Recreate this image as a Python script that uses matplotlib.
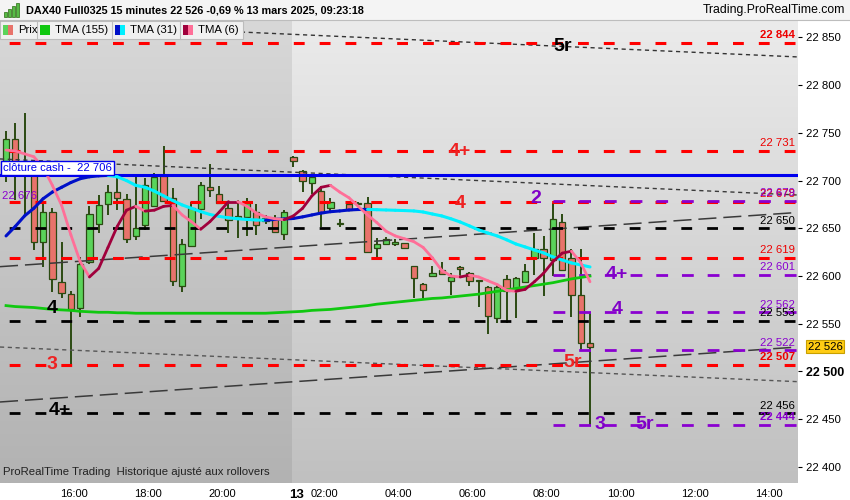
from __future__ import annotations

import matplotlib

matplotlib.use("Agg")
import matplotlib.pyplot as plt
import numpy as np
from matplotlib.collections import LineCollection
from matplotlib.colors import to_rgb
from matplotlib.patches import Rectangle
from matplotlib.transforms import blended_transform_factory

plt.rcParams["font.family"] = ["Liberation Sans", "DejaVu Sans"]
plt.rcParams["lines.scale_dashes"] = False

# 15 minute bars: index 0 = 12 mars 14:15 ... index 31 = 13 mars 01:15 ... index 63 = 09:15
opens = [22721, 22744, 22709, 22720, 22636, 22667, 22594, 22581, 22566, 22615,
         22655, 22675, 22688, 22681, 22642, 22653, 22673, 22705, 22682, 22590,
         22631, 22670, 22693, 22686, 22671, 22661, 22662, 22667, 22658, 22661,
         22644, 22725, 22710, 22698, 22689, 22671, 22655, 22675, 22677, 22677,
         22629, 22634, 22634, 22635, 22610, 22592, 22600, 22606, 22595, 22609,
         22603, 22596, 22589, 22556, 22597, 22586, 22594, 22619, 22628, 22617,
         22657, 22619, 22580, 22530]
highs = [22752, 22760, 22771, 22722, 22678, 22671, 22636, 22584, 22620, 22673,
         22685, 22695, 22704, 22686, 22704, 22703, 22708, 22736, 22692, 22639,
         22678, 22699, 22717, 22694, 22678, 22680, 22682, 22675, 22664, 22664,
         22669, 22726, 22711, 22705, 22694, 22682, 22660, 22677, 22678, 22683,
         22640, 22641, 22639, 22635, 22611, 22593, 22610, 22615, 22603, 22611,
         22604, 22596, 22590, 22591, 22601, 22599, 22613, 22645, 22642, 22677,
         22665, 22628, 22628, 22561]
lows = [22699, 22680, 22664, 22627, 22609, 22583, 22577, 22506, 22557, 22613,
        22645, 22664, 22669, 22635, 22638, 22648, 22673, 22679, 22590, 22583,
        22631, 22660, 22683, 22676, 22645, 22640, 22642, 22643, 22654, 22645,
        22638, 22714, 22688, 22686, 22651, 22666, 22651, 22668, 22675, 22625,
        22619, 22632, 22631, 22629, 22577, 22577, 22600, 22601, 22580, 22599,
        22590, 22568, 22539, 22551, 22551, 22556, 22593, 22601, 22579, 22600,
        22606, 22557, 22522, 22444]
closes = [22744, 22712, 22716, 22636, 22667, 22597, 22582, 22565, 22613, 22665,
          22674, 22688, 22682, 22639, 22650, 22695, 22704, 22679, 22595, 22634,
          22671, 22695, 22690, 22677, 22659, 22663, 22677, 22653, 22661, 22646,
          22667, 22721, 22700, 22704, 22666, 22678, 22656, 22669, 22676, 22625,
          22634, 22639, 22636, 22629, 22598, 22585, 22603, 22602, 22599, 22607,
          22595, 22595, 22558, 22589, 22584, 22598, 22605, 22628, 22619, 22660,
          22606, 22580, 22530, 22526]

tma155 = [22569, 22568, 22567.5, 22567, 22566, 22565, 22564.5, 22564, 22563, 22562.5,
          22562, 22562, 22561.5, 22561.5, 22561, 22561, 22561, 22561, 22561, 22561,
          22561, 22561, 22561, 22561, 22561, 22561, 22561, 22561, 22561, 22561.5,
          22562, 22562.5, 22563, 22564, 22564.5, 22565, 22566, 22567, 22568, 22569,
          22570.5, 22571.5, 22572.5, 22573.5, 22574.5, 22575.5, 22576.5, 22577, 22578, 22579,
          22580, 22581, 22582.5, 22584, 22585.5, 22587, 22588.5, 22590, 22591.5, 22593,
          22595, 22597, 22598.5, 22600]
tma31 = [22642, 22652, 22663, 22671, 22681, 22688, 22693, 22698, 22702, 22704,
         22705, 22705.5, 22704, 22700, 22695, 22693, 22689, 22684, 22679, 22674.5,
         22671, 22667.5, 22664.5, 22662.5, 22661, 22660, 22659.3, 22658.7, 22658.5, 22659.3,
         22659.8, 22660.3, 22662, 22664, 22666, 22667.4, 22668.2, 22669.2, 22669.7, 22669.8,
         22669.5, 22669.2, 22668.9, 22668.6, 22668.2, 22667.1, 22665, 22663, 22660, 22656.6,
         22652.5, 22648.3, 22645, 22642, 22638, 22633.6, 22630.5, 22627.3, 22624.2, 22620,
         22616.8, 22613.7, 22611.6, 22609.5]
tma6 = [22732, 22731, 22728, 22725, 22714, 22695, 22674, 22643, 22615, 22599,
        22608, 22630, 22652, 22669, 22673, 22668, 22669, 22673, 22674, 22664,
        22657, 22649, 22657, 22667, 22678, 22678, 22673, 22666, 22662, 22660,
        22659, 22663, 22671, 22684, 22693, 22695, 22688, 22682, 22673, 22664,
        22656, 22647, 22642, 22639, 22636, 22630, 22619, 22606, 22600, 22599,
        22601, 22599, 22595, 22591, 22585, 22584, 22586, 22594, 22603, 22615,
        22624, 22626, 22614, 22594]

red_levels = [22844, 22731, 22678, 22619, 22507]
black_levels = [22650, 22553, 22456]
purple_levels = [22679, 22601, 22562, 22522, 22444]
bold_level_labels = [22844, 22507, 22444]
cash_close = 22706
last_price = 22526

# (label, bar index, price, colour)
level_marks = [
    ("5r", 60.1, 22841, "black"),
    ("4+", 49.0, 22730, "#ee2222"),
    ("4", 49.0, 22676, "#ee2222"),
    ("2", 57.1, 22681, "#8000c8"),
    ("4+", 65.9, 22602, "#8000c8"),
    ("4", 65.9, 22565, "#8000c8"),
    ("5r", 61.1, 22509, "#ee2222"),
    ("3", 64.1, 22444, "#8000c8"),
    ("5r", 68.9, 22444, "#8000c8"),
    ("4", 5.0, 22566, "black"),
    ("3", 5.0, 22507, "#ee2222"),
    ("4+", 5.8, 22459, "black"),
]

# trend lines: (start index, start price, end index, end price)
trend_fine_top = (-0.65, 22867, 85.4, 22829.6)
trend_fine_mid = (-0.65, 22722.7, 85.4, 22684.9)
trend_fine_low = (-0.65, 22525.6, 85.4, 22489.3)
trend_long_up = (-0.65, 22609.8, 85.4, 22666.6)
trend_long_low = (-0.65, 22468, 85.4, 22525.6)

tick_index = [7, 15, 23, 31, 34, 42, 50, 58, 66, 74, 82]
tick_text = ["16:00", "18:00", "20:00", "13", "02:00", "04:00", "06:00",
             "08:00", "10:00", "12:00", "14:00"]
price_ticks = [22400, 22450, 22500, 22550, 22600, 22650, 22700, 22750, 22800, 22850]

W, H = 850, 500
X_MIN, X_MAX = -0.65, 85.44
Y_MIN, Y_MAX = 22383.1, 22868.3
DAY_SPLIT = 30.9


def fmt(v: float) -> str:
    return f"{int(v):,}".replace(",", " ")


def _gradient(ax, x0, x1, top, bottom):
    t = np.linspace(0, 1, 256)[:, None]
    c0, c1 = np.array(to_rgb(top)), np.array(to_rgb(bottom))
    img = (c0 + (c1 - c0) * t)[:, None, :]
    ax.imshow(img, extent=[x0, x1, Y_MIN, Y_MAX], aspect="auto", origin="upper",
              zorder=0, interpolation="bilinear")


def _two_colour(ax, values, up, down, lw):
    x = np.arange(len(values))
    y = np.asarray(values, dtype=float)
    segs = [[(x[k], y[k]), (x[k + 1], y[k + 1])] for k in range(len(y) - 1)]
    cols = [up if y[k + 1] >= y[k] else down for k in range(len(y) - 1)]
    ax.add_collection(LineCollection(segs, colors=cols, linewidths=lw,
                                     capstyle="round", joinstyle="round", zorder=6))


def px(x, y):
    return x / W, 1 - y / H


fig = plt.figure(figsize=(W / 100, H / 100), dpi=100)
fig.patch.set_facecolor("white")
ax = fig.add_axes([0, 17 / H, 798 / W, 463 / H])

_gradient(ax, X_MIN, DAY_SPLIT, "#d8d8d8", "#b2b2b2")
_gradient(ax, DAY_SPLIT, X_MAX, "#ebebeb", "#c0c0c0")

# candles
idx = np.arange(len(opens))
o, h, l, c = map(np.asarray, (opens, highs, lows, closes))
up = c >= o
ax.vlines(idx, l, h, color="#2b4a12", lw=1.4, zorder=2)
body_lo = np.minimum(o, c)
body_h = np.maximum(np.abs(c - o), 0.9)
ax.bar(idx, body_h, bottom=body_lo, width=0.68,
       color=np.where(up, "#5ad35a", "#e8736b"), edgecolor="#2b4a12",
       linewidth=0.9, zorder=3)

# trend lines
fine = dict(lw=1.0, ls=(0, (3.0, 2.6)), zorder=5)
for tl, col in ((trend_fine_top, "#333333"), (trend_fine_mid, "#3a3a3a"),
                (trend_fine_low, "#555555")):
    ax.plot([tl[0], tl[2]], [tl[1], tl[3]], color=col, **fine)
for tl in (trend_long_up, trend_long_low):
    ax.plot([tl[0], tl[2]], [tl[1], tl[3]], color="#3a3a3a", lw=1.1,
            ls=(0, (13, 5)), zorder=5)

# levels
dash = (12.0, (7.8, 10.8))
for v in red_levels:
    ax.axhline(v, color="#ff0000", lw=2.2, ls=dash, zorder=5)
for v in black_levels:
    ax.axhline(v, color="black", lw=2.0, ls=dash, zorder=5)
for v in purple_levels:
    ax.hlines(v, 59.0, X_MAX, color="#8a00d0", lw=2.0, ls=(0, (8.5, 10.0)), zorder=5)
ax.axhline(cash_close, color="#0000ee", lw=2.2, zorder=5)

# moving averages
ax.plot(idx, tma155, color="#10c810", lw=2.0, zorder=6)
_two_colour(ax, tma31, "#0010c8", "#00f0ff", 2.2)
_two_colour(ax, tma6, "#a0003c", "#ff6f98", 2.0)

bt = blended_transform_factory(ax.transAxes, ax.transData)
level_col = {}
for v in red_levels:
    level_col[v] = "#ee0000"
for v in black_levels:
    level_col[v] = "black"
for v in purple_levels:
    level_col[v] = "#8a00d0"
for v, col in level_col.items():
    ax.annotate(fmt(v), (0.996, v), xycoords=bt, xytext=(0, 5.6),
                textcoords="offset points", ha="right", va="center",
                fontsize=8.2, color=col, zorder=9,
                fontweight="bold" if v in bold_level_labels else "normal")

for text, xi, yv, col in level_marks:
    ax.text(xi, yv, text, ha="center", va="center", fontsize=14,
            fontweight="bold", color=col, zorder=9)

ax.annotate("clôture cash -  " + fmt(cash_close), (0.004, cash_close), xycoords=bt,
            xytext=(0, 1.6), textcoords="offset points", ha="left", va="bottom",
            fontsize=8.1, color="#0000ee", zorder=9,
            bbox=dict(boxstyle="square,pad=0.18", fc="white", ec="#0000ee", lw=1.0))
ax.annotate(fmt(22676), (0.003, 22678), xycoords=bt, xytext=(0, 4),
            textcoords="offset points", ha="left", va="center", fontsize=8.2,
            color="#8a00d0", zorder=9)

ax.text(0.004, 0.012, "ProRealTime Trading  Historique ajusté aux rollovers",
        transform=ax.transAxes, ha="left", va="bottom", fontsize=8.2,
        family=["Liberation Sans Narrow", "Liberation Sans"], color="#222222", zorder=9)

ax.set_xlim(X_MIN, X_MAX)
ax.set_ylim(Y_MIN, Y_MAX)
for s in ax.spines.values():
    s.set_visible(False)

ax.yaxis.tick_right()
ax.set_yticks(price_ticks, [fmt(v) for v in price_ticks])
ax.tick_params(axis="y", length=3, width=0.8, pad=3, labelsize=8.2, colors="black")
for lab in ax.get_yticklabels():
    if lab.get_text() == fmt(22500):
        lab.set_fontweight("bold")
        lab.set_fontsize(9)

ax.set_xticks([t + 0.3 for t in tick_index], tick_text)
ax.tick_params(axis="x", length=0, pad=4, labelsize=8)
for lab in ax.get_xticklabels():
    if lab.get_text() == "13":
        lab.set_fontweight("bold")
        lab.set_fontsize(9.5)

# last price marker
ax.annotate(fmt(last_price), (1.0, last_price), xycoords=bt, xytext=(7, 0),
            textcoords="offset points", ha="left", va="center", fontsize=8.2,
            annotation_clip=False, zorder=10,
            bbox=dict(boxstyle="square,pad=0.15", fc="#ffcc14", ec="#c8a000", lw=0.8))

# header
fig.add_artist(Rectangle(px(0, 20), 1, 20 / H, transform=fig.transFigure,
                         fc="#f4f4f4", ec="none", zorder=1))
fig.add_artist(plt.Line2D([0, 1], [1 - 20 / H] * 2, transform=fig.transFigure,
                          color="#bdbdbd", lw=0.8, zorder=2))
for k, hgt in enumerate((5, 8, 11, 14)):
    x0 = 4 + k * 4
    fig.add_artist(Rectangle(px(x0, 17), 2.6 / W, hgt / H, transform=fig.transFigure,
                             fc="#55bb44", ec="#2b6a12", lw=0.5, zorder=3))
fig.text(*px(26, 10.5), "DAX40 Full0325 15 minutes 22 526 -0,69 % 13 mars 2025, 09:23:18",
         ha="left", va="center", fontsize=7.8, fontweight="bold", zorder=4)
fig.text(*px(845, 10.5), "Trading.ProRealTime.com", ha="right", va="center",
         fontsize=8.8, zorder=4)

# legend row
fig.add_artist(Rectangle(px(0, 39), 243 / W, 18 / H, transform=fig.transFigure,
                         fc="#f0f0f0", ec="#bcbcbc", lw=0.8, zorder=3))
for xs in (37, 112, 180):
    fig.add_artist(plt.Line2D([xs / W] * 2, [1 - 39 / H, 1 - 21 / H],
                              transform=fig.transFigure, color="#bcbcbc", lw=0.8, zorder=4))
legend_items = [
    (3, ["#5ad35a", "#e8736b"], "Prix"),
    (40, ["#10c810", "#10c810"], "TMA (155)"),
    (115, ["#0010c8", "#00f0ff"], "TMA (31)"),
    (183, ["#a0003c", "#ff6f98"], "TMA (6)"),
]
for x0, cols, label in legend_items:
    for k, col in enumerate(cols):
        fig.add_artist(Rectangle(px(x0 + k * 5, 35), 5 / W, 10 / H,
                                 transform=fig.transFigure, fc=col, ec="none", zorder=4))
    fig.text(*px(x0 + 15, 30), label, ha="left", va="center", fontsize=8.2, zorder=5)

fig.savefig("out.png", dpi=100)
